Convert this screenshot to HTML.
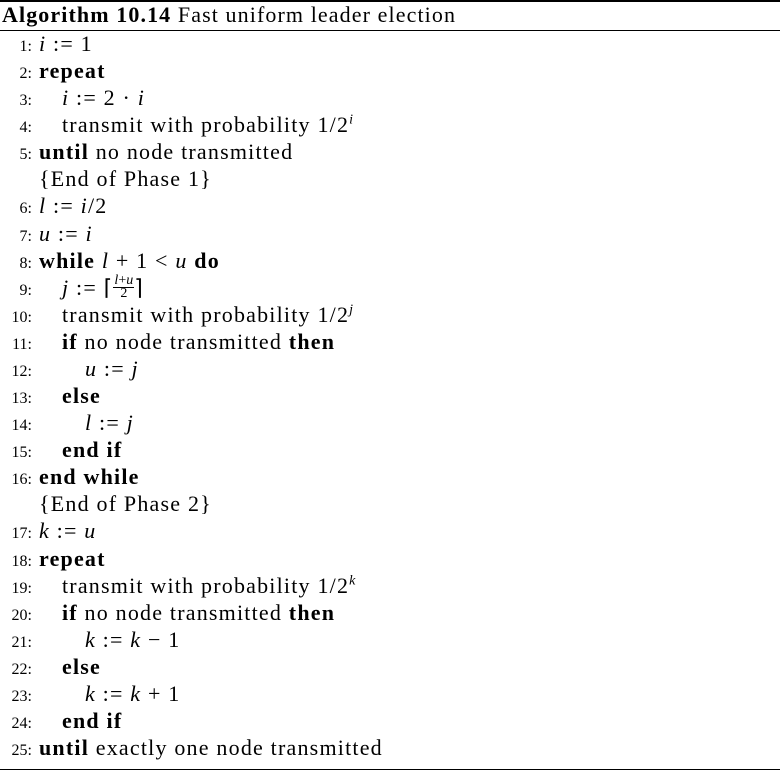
<!DOCTYPE html>
<html><head><meta charset="utf-8"><style>
body{margin:0;width:780px;height:772px;background:#fff;position:relative;font-family:"Liberation Serif",serif;color:#000;overflow:hidden}
.rule{position:absolute;left:0;width:780px;background:#000}
.title{position:absolute;left:2px;top:3px;font-size:22px;letter-spacing:1.1px;line-height:24px;white-space:nowrap}
.row{position:absolute;left:0;width:780px;height:24px;line-height:24px;font-size:22px;letter-spacing:1.2px;white-space:nowrap}
.num{position:absolute;left:0;top:3px;width:32px;font-size:16px;letter-spacing:0;text-align:right}
.code{position:absolute;left:39px}
.i1{left:62px}.i2{left:85px}
i{font-style:italic}
.frac{display:inline-block;vertical-align:middle;text-align:center;font-size:14px;letter-spacing:0;line-height:12px;position:relative;top:-2px}
.frac span{display:block}
.frac .top{border-bottom:1px solid #000;padding:0 1px}
sup{font-size:14px;line-height:0}
</style></head><body>
<div class="rule" style="top:0;height:2px"></div>
<div class="title"><b>Algorithm 10.14</b> Fast uniform leader election</div>
<div class="rule" style="top:30px;height:1px"></div>
<div id="body"></div>
<div class="rule" style="top:769px;height:1px"></div>
<script>
const lines=[
["1",0,'<i>i</i> := 1'],
["2",0,'<b>repeat</b>'],
["3",1,'<i>i</i> := 2 · <i>i</i>'],
["4",1,'transmit with probability 1/2<sup><i>i</i></sup>'],
["5",0,'<b>until</b> no node transmitted'],
["",0,'{End of Phase 1}'],
["6",0,'<i>l</i> := <i>i</i>/2'],
["7",0,'<i>u</i> := <i>i</i>'],
["8",0,'<b>while</b> <i>l</i> + 1 &lt; <i>u</i> <b>do</b>'],
["9",1,'<i>j</i> := ⌈<span class="frac"><span class="top"><i>l</i>+<i>u</i></span><span>2</span></span>⌉'],
["10",1,'transmit with probability 1/2<sup><i>j</i></sup>'],
["11",1,'<b>if</b> no node transmitted <b>then</b>'],
["12",2,'<i>u</i> := <i>j</i>'],
["13",1,'<b>else</b>'],
["14",2,'<i>l</i> := <i>j</i>'],
["15",1,'<b>end if</b>'],
["16",0,'<b>end while</b>'],
["",0,'{End of Phase 2}'],
["17",0,'<i>k</i> := <i>u</i>'],
["18",0,'<b>repeat</b>'],
["19",1,'transmit with probability 1/2<sup><i>k</i></sup>'],
["20",1,'<b>if</b> no node transmitted <b>then</b>'],
["21",2,'<i>k</i> := <i>k</i> − 1'],
["22",1,'<b>else</b>'],
["23",2,'<i>k</i> := <i>k</i> + 1'],
["24",1,'<b>end if</b>'],
["25",0,'<b>until</b> exactly one node transmitted']];
const b=document.getElementById('body');
lines.forEach((l,k)=>{
 const r=document.createElement('div');r.className='row';
 
 
 r.style.top=(44+27.08*k-12)+'px';
 r.innerHTML=(l[0]?'<span class="num">'+l[0]+':</span>':'')+'<span class="code'+(l[1]?' i'+l[1]:'')+'">'+l[2]+'</span>';
 b.appendChild(r);
});
</script>
</body></html>
